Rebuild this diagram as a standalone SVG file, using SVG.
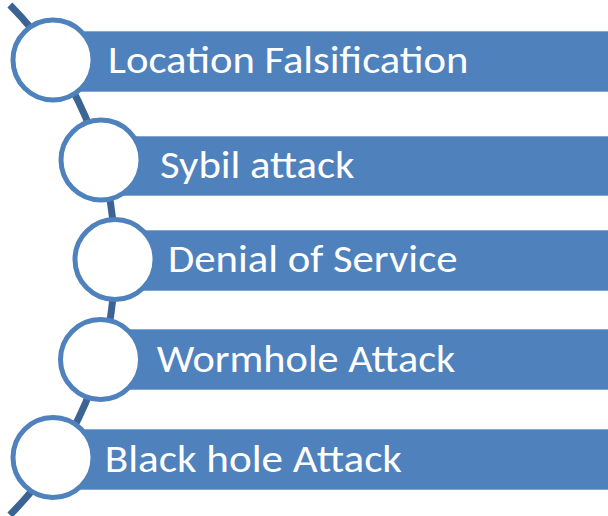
<svg xmlns="http://www.w3.org/2000/svg" width="608" height="516" viewBox="0 0 608 516">
<style>
.bar{fill:#4f81bd;stroke:#ffffff;stroke-width:1;stroke-opacity:0.6}
.dot{fill:#ffffff;stroke:#4f81bd;stroke-width:5}
.lbl{fill:#ffffff;font-family:Carlito,Calibri,Lato,"Liberation Sans",sans-serif;font-size:38px}
.arc{fill:none;stroke:#3b6494;stroke-width:7}
</style>
<rect width="608" height="516" fill="#ffffff"/>
<g id="connectors">
<path class="arc" d="M 9.9 5 A 362 362 0 0 1 9.9 515"/>
</g>
<g id="node1">
<rect class="bar" x="53" y="31" width="560" height="61"/>
<circle class="dot" cx="53" cy="60" r="40"/>
<text class="lbl" x="108" y="73.3" textLength="360.5" lengthAdjust="spacingAndGlyphs">Location Falsification</text>
</g>
<g id="node2">
<rect class="bar" x="101" y="136" width="512" height="60"/>
<circle class="dot" cx="101" cy="160" r="40"/>
<text class="lbl" x="160" y="177.7" textLength="194.5" lengthAdjust="spacingAndGlyphs">Sybil attack</text>
</g>
<g id="node3">
<rect class="bar" x="115" y="230" width="498" height="61"/>
<circle class="dot" cx="115" cy="259.5" r="40"/>
<text class="lbl" x="168" y="271.7" textLength="289.5" lengthAdjust="spacingAndGlyphs">Denial of Service</text>
</g>
<g id="node4">
<rect class="bar" x="100" y="329" width="513" height="61"/>
<circle class="dot" cx="100.5" cy="359.5" r="40"/>
<text class="lbl" x="156.7" y="371.7" textLength="298.6" lengthAdjust="spacingAndGlyphs">Wormhole Attack</text>
</g>
<g id="node5">
<rect class="bar" x="53" y="429" width="560" height="61"/>
<circle class="dot" cx="53" cy="457.5" r="40"/>
<text class="lbl" x="104.7" y="471.7" textLength="297.3" lengthAdjust="spacingAndGlyphs">Black hole Attack</text>
</g>
</svg>
